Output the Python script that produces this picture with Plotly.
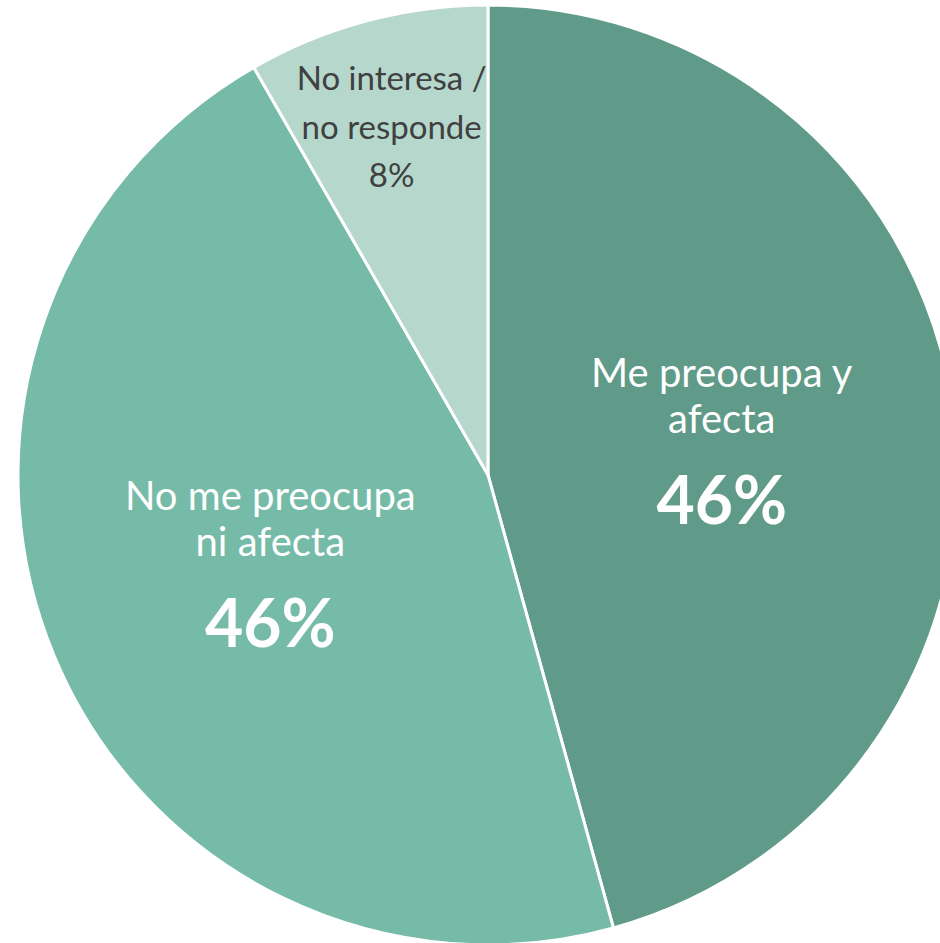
import plotly.graph_objects as go

labels = ["Me preocupa y afecta", "No me preocupa ni afecta", "No interesa / no responde"]
text_lines = ["Me preocupa y<br>afecta", "No me preocupa<br>ni afecta", "No interesa /<br>no responde"]
values = [45.7, 46.0, 8.3]
colors = ["#5f9b88", "#76bba7", "#b6d7cc"]
text_colors = ["white", "white", "#404040"]


def big_label(lines):
    parts = ["<span style='font-size:40px'>%s</span>" % s for s in lines.split("<br>")]
    return "<br>".join(parts) + "<br> <br><b><span style='font-size:66px'>%{percent:.0%}</span></b>"


def small_label(lines):
    # invisible leading line nudges the block a little lower in the thin slice
    parts = ["<span style='font-size:33px'>%s</span>" % s for s in lines.split("<br>")]
    return "<span style='font-size:8px;color:rgba(0,0,0,0)'>.</span><br>" + "<br>".join(parts) + \
        "<br><span style='font-size:33px'>%{percent:.0%}</span>"


templates = [
    big_label(text_lines[0]),
    big_label(text_lines[1]),
    small_label(text_lines[2]),
]

fig = go.Figure()
fig.add_trace(go.Pie(
    labels=labels,
    values=values,
    sort=False,
    direction="clockwise",
    rotation=0,
    marker=dict(colors=colors, line=dict(color="white", width=3)),
    texttemplate=templates,
    textposition="inside",
    insidetextorientation="horizontal",
    insidetextfont=dict(family="Lato", size=[35, 35, 37], color=text_colors),
    hoverinfo="label+percent",
))

fig.update_layout(
    width=960, height=950,
    margin=dict(l=18, r=2, t=5, b=5),
    showlegend=False,
    paper_bgcolor="white",
    plot_bgcolor="white",
    uniformtext=dict(minsize=35, mode="show"),
)

fig.write_html("out.html",
               config={"displayModeBar": False},
               post_script="document.body.style.margin='0';document.body.style.overflow='hidden';")
